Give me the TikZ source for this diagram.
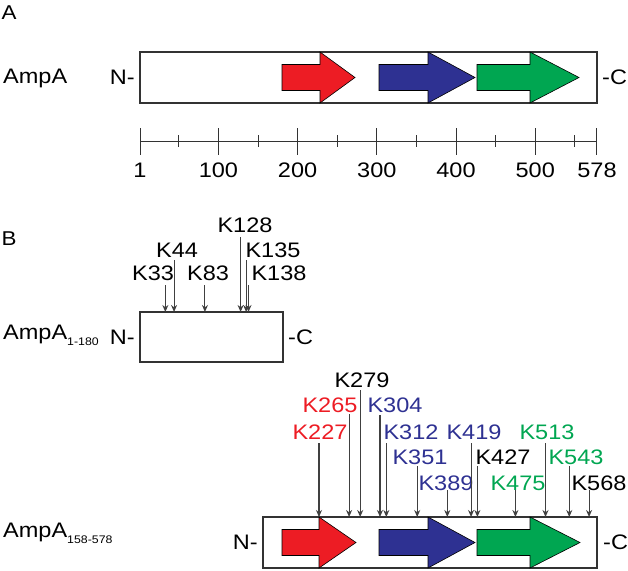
\documentclass[tikz,border=0pt]{standalone}
\usepackage{fontspec}
\setmainfont[FakeStretch=1.12]{Liberation Sans}
\usepackage{xcolor}
\usepackage{tikz}
\usetikzlibrary{arrows.meta,positioning,calc}
\definecolor{domred}{RGB}{237,28,36}
\definecolor{domblue}{RGB}{46,49,146}
\definecolor{domgreen}{RGB}{0,166,81}
\newcommand{\resx}[1]{140+(#1-1)*0.792}
\newcommand{\domarrow}[5]{%
  \filldraw[fill=#1, draw=black, line width=0.6pt]
    ({#2},{#5-13}) -- ({#3},{#5-13}) -- ({#3},{#5-25.5}) -- ({#4},{#5})
    -- ({#3},{#5+25.5}) -- ({#3},{#5+13}) -- ({#2},{#5+13}) -- cycle;}
\newcommand{\subtag}[1]{{\fontsize{11}{12}\selectfont\raisebox{-6pt}{#1}}}

\begin{document}
\begin{tikzpicture}[
    x=1pt, y=-1pt,
    protbox/.style={draw=black!80, line width=1.1pt, fill=white, inner sep=0pt, outer sep=0pt},
    term/.style={font=\fontsize{21}{24}\selectfont, inner sep=0pt},
    protname/.style={font=\fontsize{21}{24}\selectfont, anchor=west, inner sep=0pt},
    panel/.style={font=\fontsize{20}{22}\selectfont, inner sep=0pt},
    sitelabel/.style={font=\fontsize{21}{24}\selectfont, inner sep=0pt},
    numlabel/.style={font=\fontsize{21}{24}\selectfont, inner sep=0pt},
    site/.style={draw=black!75, line width=1.1pt, -{Stealth[length=7pt, width=6pt]}},
    axis/.style={draw=black!80, line width=1pt}
]
\useasboundingbox (0,0) rectangle (628,570);

% --- Panel A: full-length protein ---
\node[panel] (pA) at (9,13) {A};
\node[protname] (nameA) at (3,78) {AmpA};
\node[protbox, minimum width=457pt, minimum height=51pt] (full) at (368.5,77.5) {};
\node[term, left=5pt of full.west] (fullN) {N-};
\node[term, right=5pt of full.east] (fullC) {-C};
\domarrow{domred}{282}{320}{355}{77.5}
\domarrow{domblue}{379}{428}{475}{77.5}
\domarrow{domgreen}{477}{530}{579}{77.5}

% --- Residue scale ---
\draw[axis] (140,141) -- (597,141);
\foreach \t in {50,150,250,350,450,550}
  \draw[axis] ({\resx{\t}},135) -- ++(0,12);
\foreach \t in {1,100,200,300,400,500,578} {
  \draw[axis] ({\resx{\t}},128) -- ++(0,27);
  \node[numlabel] (n\t) at ({\resx{\t}},170) {\t};
}

% --- Panel B: N-terminal fragment ---
\node[panel] (pB) at (9,239) {B};
\node[protname] (nameB1) at (3,335) {AmpA\subtag{1-180}};
\node[protbox, minimum width=143pt, minimum height=50pt] (b1) at (211.5,337) {};
\node[term, left=5pt of b1.west] (b1N) {N-};
\node[term, right=5pt of b1.east] (b1C) {-C};

\foreach \r/\lx/\ly/\lt in {33/153/273/285, 44/177/250/260, 83/208/273/285,
    128/245/225/237, 135/273/250/260, 138/279/273/285} {
  \node[sitelabel] (k\r) at (\lx,\ly) {K\r};
  \coordinate (t\r) at ({\resx{\r}},\lt);
  \draw[site] (t\r) -- (t\r |- b1.north);
}

% --- Panel B: C-terminal fragment ---
\node[protname] (nameB2) at (3,533) {AmpA\subtag{158-578}};
\node[protbox, minimum width=334pt, minimum height=51pt] (b2) at (430,542.5) {};
\node[term, left=5pt of b2.west] (b2N) {N-};
\node[term, right=6pt of b2.east] (b2C) {-C};
\domarrow{domred}{282}{319}{356}{542.5}
\domarrow{domblue}{379}{428}{475}{542.5}
\domarrow{domgreen}{477}{530}{580}{542.5}

\foreach \r/\lx/\ly/\lt/\col in {227/320/432/443/domred, 265/330/405/414/domred,
    279/362/380/390/black, 304/395/405/415/domblue, 312/411/432/443/domblue,
    351/420/457/466/domblue, 389/446/483/490/domblue, 419/474/432/443/domblue,
    427/503/457/466/black, 475/518/483/490/domgreen, 513/547/432/443/domgreen,
    543/576/457/466/domgreen, 568/599/483/490/black} {
  \node[sitelabel, text=\col] (k\r) at (\lx,\ly) {K\r};
  \coordinate (t\r) at ({\resx{\r}},\lt);
  \draw[site] (t\r) -- (t\r |- b2.north);
}

\end{tikzpicture}
\end{document}
